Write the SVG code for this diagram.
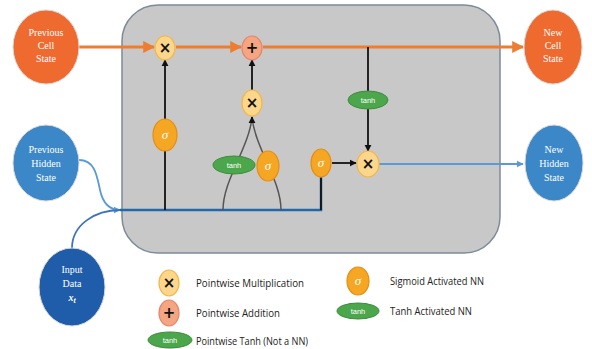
<svg xmlns="http://www.w3.org/2000/svg" width="592" height="349" viewBox="0 0 592 349">
<defs>
<marker id="ao" viewBox="0 0 10 10" refX="9" refY="5" markerWidth="4" markerHeight="4" orient="auto"><path d="M0,0 L10,5 L0,10 z" fill="#ED7D31"/></marker>
<marker id="ak" viewBox="0 0 10 10" refX="9" refY="5" markerWidth="4" markerHeight="4" orient="auto"><path d="M0,0 L10,5 L0,10 z" fill="#111"/></marker>
<marker id="ab" viewBox="0 0 10 10" refX="9" refY="5" markerWidth="4" markerHeight="4" orient="auto"><path d="M0,0 L10,5 L0,10 z" fill="#5B9BD5"/></marker>
</defs>
<style>
.st{font-family:"Liberation Serif",serif;font-size:10px;fill:#fff;text-anchor:middle}
.lg{font-family:"Open Sans","Liberation Sans",sans-serif;font-size:11.5px;fill:#222}
.mul{fill:#FCD68A;stroke:#F3B64A;stroke-width:1.2}
.add{fill:#F4A582;stroke:#E8846A;stroke-width:1.2}
.sig{fill:#F5A623;stroke:#E38F16;stroke-width:1.2}
.tnh{fill:#4CA64C;stroke:#3D8B3D;stroke-width:1}
.sym{font-family:"DejaVu Sans",sans-serif;font-weight:bold;font-size:15px;fill:#111;text-anchor:middle}
.sgt{font-family:"Liberation Serif",serif;font-style:italic;font-size:13px;fill:#fff;text-anchor:middle}
.tt{font-family:"Liberation Sans",sans-serif;font-size:7.5px;fill:#fff;text-anchor:middle}
.k{stroke:#111;stroke-width:1.8;fill:none}
.g{stroke:#555;stroke-width:1.5;fill:none}
</style>
<rect id="cell" x="122" y="5" width="378" height="248" rx="36" ry="36" fill="#C9C8C8" stroke="#7D8A99" stroke-width="1.5"/>
<g id="connectors">
<path d="M79,47 L154,47" stroke="#ED7D31" stroke-width="3" marker-end="url(#ao)"/>
<path d="M176,47 L241,47" stroke="#ED7D31" stroke-width="3" marker-end="url(#ao)"/>
<path d="M263,47 L523,47" stroke="#ED7D31" stroke-width="3" marker-end="url(#ao)"/>
<path d="M79,160 C95,160 97,176 100,190 C103,204 110,210 120,210" stroke="#5B9BD5" stroke-width="1.8" fill="none" marker-end="url(#ab)"/>
<path d="M72,248 C72,225 95,210 120,210" stroke="#3F73BF" stroke-width="1.8" fill="none"/>
<path d="M120,210 L321,210 L321,176" stroke="#2467A8" stroke-width="2.5" fill="none"/>
<path d="M321,210 L321,178" stroke="#111" stroke-width="1.8"/>
<path class="k" d="M165,210 L165,60" marker-end="url(#ak)"/>
<path class="g" d="M223,210 C223,180 248,150 252,118"/>
<path class="g" d="M281,210 C281,180 256,150 252,118"/>
<path class="k" d="M252,118 L252,117" marker-end="url(#ak)"/>
<path class="k" d="M252,90 L252,60" marker-end="url(#ak)"/>
<path class="k" d="M368,47 L368,151" marker-end="url(#ak)"/>
<path class="k" d="M332,163 L356,163" marker-end="url(#ak)"/>
<path d="M379,164 L523,164" stroke="#5B9BD5" stroke-width="1.8" marker-end="url(#ab)"/>
</g>
<g id="prev-cell"><ellipse cx="46" cy="47" rx="33" ry="37" fill="#EE6A2F" stroke="#D9D9D9" stroke-width="1"/>
<text class="st" x="46" y="36">Previous</text><text class="st" x="46" y="49">Cell</text><text class="st" x="46" y="62">State</text></g>
<g id="new-cell"><ellipse cx="553" cy="47" rx="29" ry="37" fill="#EE6A2F" stroke="#D9D9D9" stroke-width="1"/>
<text class="st" x="553" y="36">New</text><text class="st" x="553" y="49">Cell</text><text class="st" x="553" y="62">State</text></g>
<g id="prev-hidden"><ellipse cx="46" cy="163" rx="33" ry="38" fill="#3C87C8" stroke="#D9D9D9" stroke-width="1"/>
<text class="st" x="46" y="153">Previous</text><text class="st" x="46" y="167">Hidden</text><text class="st" x="46" y="181">State</text></g>
<g id="new-hidden"><ellipse cx="554" cy="163" rx="29" ry="38" fill="#3C87C8" stroke="#D9D9D9" stroke-width="1"/>
<text class="st" x="554" y="153">New</text><text class="st" x="554" y="167">Hidden</text><text class="st" x="554" y="181">State</text></g>
<g id="input"><ellipse cx="72" cy="287" rx="33" ry="39" fill="#1F5DAA" stroke="#D9D9D9" stroke-width="1"/>
<text class="st" x="72" y="273">Input</text><text class="st" x="72" y="287">Data</text><text class="st" x="72" y="301" font-style="italic" font-weight="bold" font-size="12">x<tspan font-size="8" dy="2">t</tspan></text></g>
<g id="mul-forget"><ellipse class="mul" cx="165" cy="48" rx="10" ry="12"/><text class="sym" x="165" y="53">×</text></g>
<g id="add"><ellipse class="add" cx="252" cy="48" rx="10" ry="12"/><text class="sym" x="252" y="53">+</text></g>
<g id="mul-input"><ellipse class="mul" cx="252" cy="103" rx="10" ry="13"/><text class="sym" x="252" y="108">×</text></g>
<g id="mul-output"><ellipse class="mul" cx="368" cy="164" rx="11" ry="13"/><text class="sym" x="368" y="169">×</text></g>
<g id="sig-forget"><ellipse class="sig" cx="165" cy="135" rx="12" ry="16"/><text class="sgt" x="165" y="139">σ</text></g>
<g id="sig-input"><ellipse class="sig" cx="268" cy="166" rx="11" ry="15"/><text class="sgt" x="268" y="170">σ</text></g>
<g id="sig-output"><ellipse class="sig" cx="321" cy="163" rx="10" ry="14"/><text class="sgt" x="321" y="167">σ</text></g>
<g id="tanh-input"><ellipse class="tnh" cx="234" cy="165" rx="21" ry="9"/><text class="tt" x="234" y="168">tanh</text></g>
<g id="tanh-output"><ellipse class="tnh" cx="368" cy="100" rx="20" ry="9"/><text class="tt" x="368" y="103">tanh</text></g>
<g id="legend">
<ellipse class="mul" cx="169" cy="283" rx="10" ry="13"/><text class="sym" x="169" y="288">×</text>
<text class="lg" x="196" y="287" textLength="108" lengthAdjust="spacingAndGlyphs">Pointwise Multiplication</text>
<ellipse class="add" cx="169" cy="313" rx="10" ry="13"/><text class="sym" x="169" y="318">+</text>
<text class="lg" x="196" y="317" textLength="84" lengthAdjust="spacingAndGlyphs">Pointwise Addition</text>
<ellipse class="tnh" cx="170" cy="340" rx="22" ry="8"/><text class="tt" x="170" y="343">tanh</text>
<text class="lg" x="196" y="345" textLength="112" lengthAdjust="spacingAndGlyphs">Pointwise Tanh (Not a NN)</text>
<ellipse class="sig" cx="358" cy="281" rx="11" ry="14"/><text class="sgt" x="358" y="285">σ</text>
<text class="lg" x="390" y="285" textLength="94" lengthAdjust="spacingAndGlyphs">Sigmoid Activated NN</text>
<ellipse class="tnh" cx="358" cy="311" rx="21" ry="8"/><text class="tt" x="358" y="314">tanh</text>
<text class="lg" x="390" y="315" textLength="82" lengthAdjust="spacingAndGlyphs">Tanh Activated NN</text>
</g>
</svg>
